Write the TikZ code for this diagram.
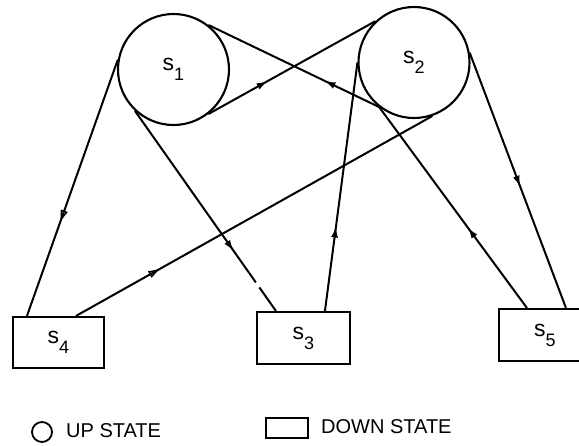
\documentclass[tikz,border=0pt]{standalone}
\usepackage{fontspec}
\setmainfont{Liberation Sans}
\usetikzlibrary{arrows.meta,decorations.markings}
\newcommand\stlab[1]{s\raisebox{-10pt}{\fontsize{18}{18}\selectfont #1}}
\begin{document}
\begin{tikzpicture}[x=1pt,y=-1pt,
  up/.style={circle,draw,line width=2.1pt,minimum size=111pt,inner sep=0pt,font=\fontsize{23}{23}\selectfont},
  down/.style={rectangle,draw,line width=2.1pt,inner sep=0pt,font=\fontsize{23}{23}\selectfont},
  link/.style={line width=2pt},
  fa/.style={postaction={decorate},decoration={markings,mark=at position #1 with {\arrow{Latex[length=11pt,width=7pt]}}}},
  oa/.style={postaction={decorate},decoration={markings,mark=at position #1 with {\arrow{Triangle[open,length=11pt,width=7pt,line width=1.5pt]}}}},
  legtext/.style={anchor=base west,inner sep=0pt,font=\fontsize{20}{20}\selectfont}
]
\clip (0,0) rectangle (579,445);
\fill[white] (0,0) rectangle (579,445);
\node[up] (s1) at (173.5,69.5) {\stlab{1}};
\node[up] (s2) at (414,62.5) {\stlab{2}};
\node[down,minimum width=91pt,minimum height=51pt] (s4) at (58.5,342.5) {\stlab{4}};
\node[down,minimum width=93pt,minimum height=52pt] (s3) at (303.5,338) {\stlab{3}};
\node[down,minimum width=92pt,minimum height=52pt] (s5) at (545,335) {\stlab{5}};

\draw[link,oa=0.63] (s1.170) -- ([xshift=15pt]s4.north west);
\draw[link,oa=0.234] ([xshift=64pt]s4.north west) -- (s2.-71);
\draw[link,fa=0.70,dash pattern=on 210pt off 6pt on 200pt] (s1.227) -- ([xshift=20pt]s3.north west);
\draw[link,fa=0.355] (s1.-52) -- (s2.133);
\draw[link,fa=0.32] (s2.232) -- (s1.52);
\draw[link,fa=0.40] ([xshift=29pt]s5.north west) -- (s2.232);
\draw[link,fa=0.34] ([xshift=69pt]s3.north west) -- (s2.180);
\draw[link,fa=0.525] (s2.10) -- ([xshift=68pt]s5.north west);

\node[circle,draw,line width=1.8pt,minimum size=20pt,inner sep=0pt] (lu) at (42,432) {};
\node[legtext] (lut) at (66,437) {UP STATE};
\node[draw,line width=1.8pt,minimum width=42pt,minimum height=20pt,inner sep=0pt] (ld) at (287,428) {};
\node[legtext] (ldt) at (321,433.5) {DOWN STATE};
\end{tikzpicture}
\end{document}
